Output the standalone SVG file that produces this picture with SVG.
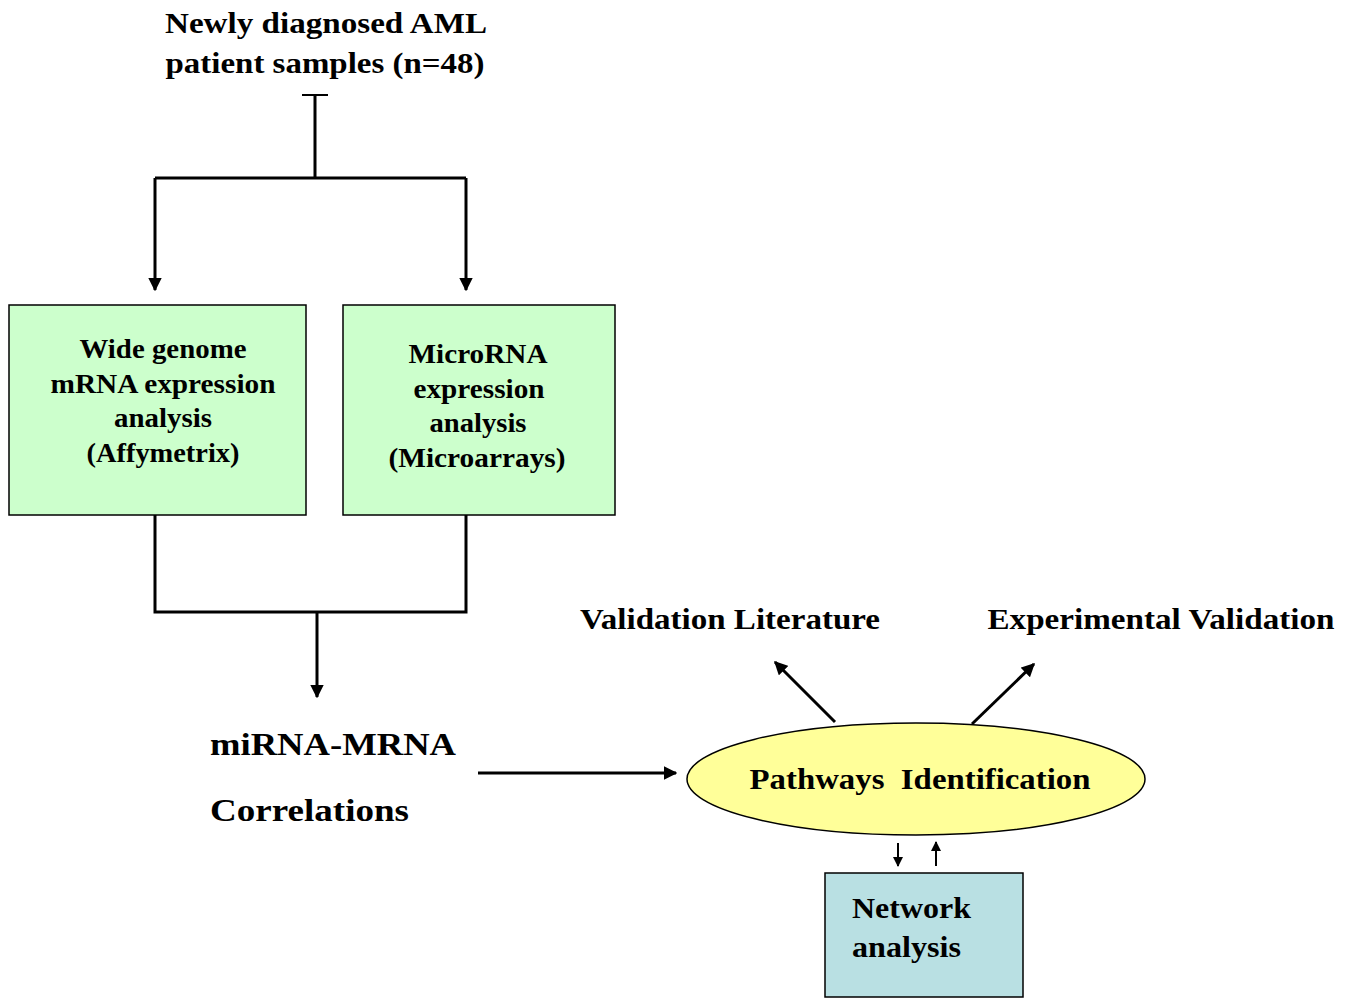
<svg xmlns="http://www.w3.org/2000/svg" width="1355" height="999" viewBox="0 0 1355 999">
<style>
text{font-family:"Liberation Serif","Times New Roman",serif;font-weight:bold;fill:#000}
.c{stroke:#000;stroke-width:3;fill:none}
.t{stroke:#000;stroke-width:2;fill:none}
</style>
<defs>
<marker id="ah" viewBox="0 0 10 10" refX="9" refY="5" markerWidth="4.5" markerHeight="4.5" orient="auto" markerUnits="strokeWidth"><path d="M0,0L10,5L0,10z" fill="#000"/></marker>
<marker id="ahs" viewBox="0 0 10 10" refX="9" refY="5" markerWidth="5" markerHeight="5" orient="auto" markerUnits="strokeWidth"><path d="M0,0L10,5L0,10z" fill="#000"/></marker>
</defs>
<rect width="1355" height="999" fill="#fff"/>
<g id="title">
<text x="326" y="33" font-size="29" text-anchor="middle" textLength="322" lengthAdjust="spacingAndGlyphs">Newly diagnosed AML</text>
<text x="325" y="73" font-size="29" text-anchor="middle" textLength="319" lengthAdjust="spacingAndGlyphs">patient samples (n=48)</text>
</g>
<g id="connectors">
<line x1="302" y1="95" x2="328" y2="95" class="t"/>
<path d="M315,95V178M155,178H466" class="c"/>
<line x1="155" y1="178" x2="155" y2="290" class="c" marker-end="url(#ah)"/>
<line x1="466" y1="178" x2="466" y2="290" class="c" marker-end="url(#ah)"/>
<path d="M155,515V612H466V515" class="c"/>
<line x1="317" y1="612" x2="317" y2="697" class="c" marker-end="url(#ah)"/>
<line x1="478" y1="773" x2="676" y2="773" class="c" marker-end="url(#ah)"/>
<line x1="835" y1="722" x2="775" y2="662" class="c" marker-end="url(#ah)"/>
<line x1="972" y1="724" x2="1034" y2="664" class="c" marker-end="url(#ah)"/>
<line x1="898" y1="843" x2="898" y2="866" class="t" marker-end="url(#ahs)"/>
<line x1="936" y1="866" x2="936" y2="842" class="t" marker-end="url(#ahs)"/>
</g>
<g id="box-mrna">
<rect x="9" y="305" width="297" height="210" fill="#CCFFCC" stroke="#000" stroke-width="1.5"/>
<text x="163" y="358" font-size="28" text-anchor="middle" textLength="167" lengthAdjust="spacingAndGlyphs">Wide genome</text>
<text x="163" y="393" font-size="28" text-anchor="middle" textLength="225" lengthAdjust="spacingAndGlyphs">mRNA expression</text>
<text x="163" y="427" font-size="28" text-anchor="middle" textLength="98" lengthAdjust="spacingAndGlyphs">analysis</text>
<text x="163" y="462" font-size="28" text-anchor="middle" textLength="153" lengthAdjust="spacingAndGlyphs">(Affymetrix)</text>
</g>
<g id="box-mirna">
<rect x="343" y="305" width="272" height="210" fill="#CCFFCC" stroke="#000" stroke-width="1.5"/>
<text x="478" y="363" font-size="28" text-anchor="middle" textLength="139" lengthAdjust="spacingAndGlyphs">MicroRNA</text>
<text x="479" y="398" font-size="28" text-anchor="middle" textLength="131" lengthAdjust="spacingAndGlyphs">expression</text>
<text x="478" y="432" font-size="28" text-anchor="middle" textLength="97" lengthAdjust="spacingAndGlyphs">analysis</text>
<text x="477" y="467" font-size="28" text-anchor="middle" textLength="177" lengthAdjust="spacingAndGlyphs">(Microarrays)</text>
</g>
<g id="correlations">
<text x="210" y="755" font-size="32" textLength="246" lengthAdjust="spacingAndGlyphs">miRNA-MRNA</text>
<text x="210" y="821" font-size="32" textLength="199" lengthAdjust="spacingAndGlyphs">Correlations</text>
</g>
<g id="pathways">
<ellipse cx="916" cy="779" rx="229" ry="56" fill="#FFFF99" stroke="#000" stroke-width="1.5"/>
<text x="920" y="789" font-size="30" text-anchor="middle" textLength="341" lengthAdjust="spacingAndGlyphs" xml:space="preserve">Pathways  Identification</text>
</g>
<g id="validation-literature">
<text x="730" y="629" font-size="30" text-anchor="middle" textLength="300" lengthAdjust="spacingAndGlyphs">Validation Literature</text>
</g>
<g id="experimental-validation">
<text x="1161" y="629" font-size="30" text-anchor="middle" textLength="347" lengthAdjust="spacingAndGlyphs">Experimental Validation</text>
</g>
<g id="network">
<rect x="825" y="873" width="198" height="124" fill="#B9E0E3" stroke="#000" stroke-width="1.5"/>
<text x="852" y="918" font-size="30" textLength="119" lengthAdjust="spacingAndGlyphs">Network</text>
<text x="852" y="957" font-size="30" textLength="109" lengthAdjust="spacingAndGlyphs">analysis</text>
</g>
</svg>
